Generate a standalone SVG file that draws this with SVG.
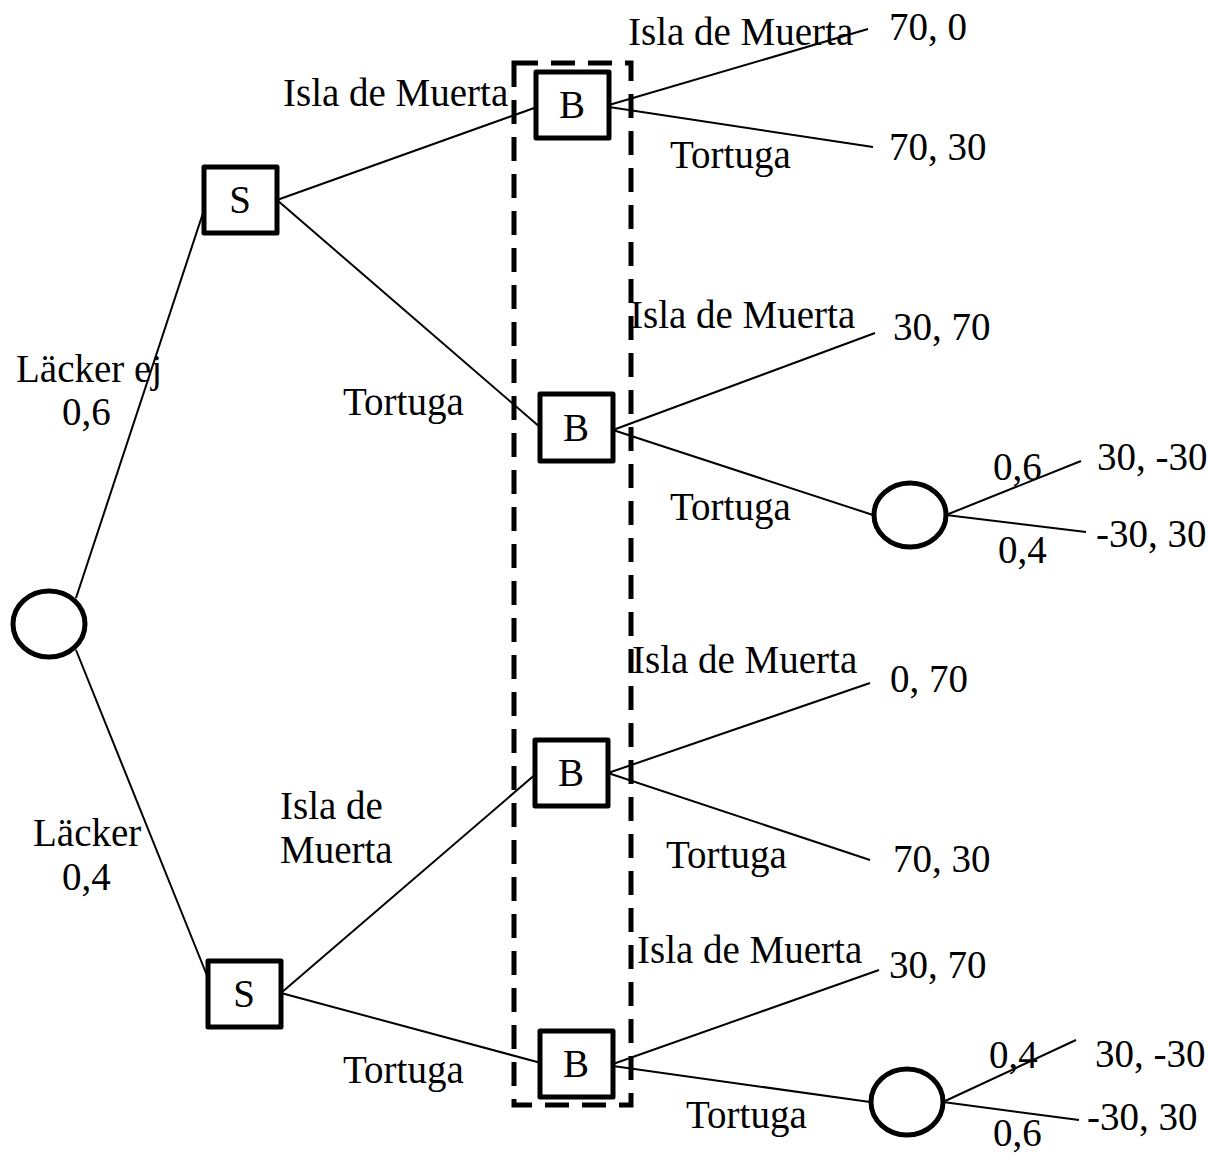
<svg xmlns="http://www.w3.org/2000/svg" width="1208" height="1155" viewBox="0 0 1208 1155">
<style>
text{font-family:"Liberation Serif","Times New Roman",serif;font-size:39px;fill:#000}
.c text{text-anchor:middle}
.dec rect{fill:#fff;stroke:#000;stroke-width:5;stroke-linejoin:round}
.ch ellipse{fill:#fff;stroke:#000;stroke-width:5}
#edges line{stroke:#000;stroke-width:2}
#infoset{fill:none;stroke:#000;stroke-width:5;stroke-dasharray:24 13}
</style>
<rect width="1208" height="1155" fill="#fff"/>
<g id="edges">
<line x1="76" y1="598" x2="205" y2="207"/>
<line x1="76" y1="650" x2="208" y2="978"/>
<line x1="277" y1="200" x2="537" y2="107"/>
<line x1="277" y1="200" x2="541" y2="428"/>
<line x1="281" y1="993" x2="537" y2="773"/>
<line x1="281" y1="993" x2="541" y2="1063"/>
<line x1="609" y1="105" x2="868" y2="29"/>
<line x1="609" y1="107" x2="873" y2="147"/>
<line x1="613" y1="430" x2="875" y2="333"/>
<line x1="613" y1="430" x2="873" y2="515"/>
<line x1="946" y1="515" x2="1081" y2="461"/>
<line x1="946" y1="515" x2="1086" y2="532"/>
<line x1="608" y1="773" x2="870" y2="683"/>
<line x1="608" y1="773" x2="870" y2="860"/>
<line x1="613" y1="1064" x2="879" y2="970"/>
<line x1="613" y1="1066" x2="870" y2="1102"/>
<line x1="943" y1="1102" x2="1076" y2="1040"/>
<line x1="943" y1="1102" x2="1079" y2="1120"/>
</g>
<rect id="infoset" x="514" y="63" width="117" height="1042"/>
<g id="root" class="ch"><ellipse cx="49" cy="624" rx="36" ry="33"/></g>
<g id="s1" class="dec c"><rect x="204" y="167" width="73" height="66"/><text x="240" y="213">S</text></g>
<g id="s2" class="dec c"><rect x="208" y="961" width="73" height="66"/><text x="244" y="1007">S</text></g>
<g id="b1" class="dec c"><rect x="536" y="72" width="73" height="66"/><text x="572" y="118">B</text></g>
<g id="b2" class="dec c"><rect x="540" y="394" width="73" height="67"/><text x="576" y="441">B</text></g>
<g id="b3" class="dec c"><rect x="535" y="740" width="73" height="66"/><text x="571" y="786">B</text></g>
<g id="b4" class="dec c"><rect x="540" y="1031" width="73" height="66"/><text x="576" y="1077">B</text></g>
<g id="n2" class="ch"><ellipse cx="910" cy="515" rx="36" ry="32"/></g>
<g id="n3" class="ch"><ellipse cx="907" cy="1102" rx="36" ry="33"/></g>
<g id="labels">
<text x="16" y="382">Läcker ej</text>
<text x="62" y="425">0,6</text>
<text x="33" y="846">Läcker</text>
<text x="62" y="890">0,4</text>
<text x="283" y="106">Isla de Muerta</text>
<text x="343" y="415">Tortuga</text>
<text x="280" y="819">Isla de</text>
<text x="280" y="863">Muerta</text>
<text x="343" y="1083">Tortuga</text>
<text x="628" y="45">Isla de Muerta</text>
<text x="670" y="168">Tortuga</text>
<text x="630" y="328">Isla de Muerta</text>
<text x="670" y="520">Tortuga</text>
<text x="632" y="673">Isla de Muerta</text>
<text x="666" y="868">Tortuga</text>
<text x="637" y="963">Isla de Muerta</text>
<text x="686" y="1128">Tortuga</text>
<text x="993" y="480">0,6</text>
<text x="998" y="563">0,4</text>
<text x="989" y="1068">0,4</text>
<text x="993" y="1146">0,6</text>
<text x="889" y="40">70, 0</text>
<text x="889" y="160">70, 30</text>
<text x="893" y="340">30, 70</text>
<text x="1097" y="470">30, -30</text>
<text x="1096" y="547">-30, 30</text>
<text x="890" y="692">0, 70</text>
<text x="893" y="872">70, 30</text>
<text x="889" y="978">30, 70</text>
<text x="1095" y="1067">30, -30</text>
<text x="1087" y="1130">-30, 30</text>
</g>
</svg>
